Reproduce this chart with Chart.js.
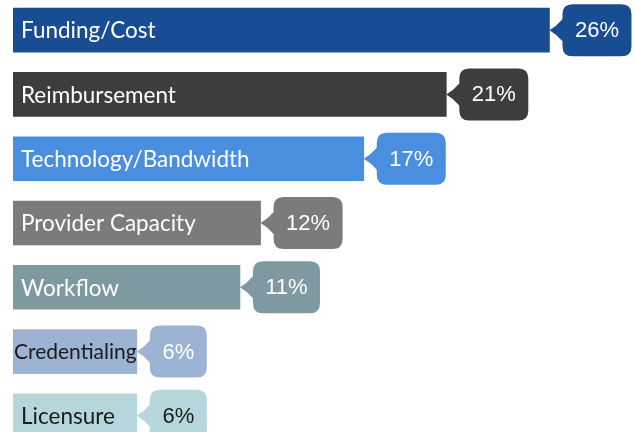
<!DOCTYPE html>
<html>
<head>
<meta charset="utf-8">
<script src="https://cdn.jsdelivr.net/npm/chart.js@4"></script>
<style>
    html, body { margin: 0; padding: 0; background: #fff; overflow: hidden; }
    #wrap { position: absolute; left: 0; top: -2px; width: 636px; height: 450px; }
</style>
</head>
<body>
<div id="wrap"><canvas id="chart"></canvas></div>
<script>
var categories = ["Funding/Cost", "Reimbursement", "Technology/Bandwidth", "Provider Capacity", "Workflow", "Credentialing", "Licensure"];
var shares = [26, 21, 17, 12, 11, 6, 6];

var barColors = ['#184d94', '#3d3d3d', '#4a8ee0', '#7b7b7b', '#7e9aa0', '#9db3d3', '#b5d6db'];
var labelColors = ['#fff', '#fff', '#fff', '#fff', '#fff', '#1a1a1a', '#1a1a1a'];
var bubbleTextColors = ['#fff', '#fff', '#fff', '#fff', '#fff', '#fff', '#1a1a1a'];

// label + callout bubble drawn on top of each bar
var calloutPlugin = {
    id: 'callouts',
    afterDatasetsDraw: function(chart) {
        var ctx = chart.ctx;
        var meta = chart.getDatasetMeta(0);
        meta.data.forEach(function(bar, i) {
            var x = bar.x, cy = bar.y;
            var half = bar.height / 2;
            var left = bar.base;

            // label inside bar
            ctx.save();
            var small = categories[i] === 'Credentialing';
            ctx.font = (small ? '21px' : '22.5px') + ' Lato';
            ctx.fillStyle = labelColors[i];
            ctx.textBaseline = 'middle';
            ctx.textAlign = 'left';
            ctx.fillText(categories[i], left + (small ? 1 : 8), cy + 1);

            // bubble, sized to its text
            var txt = shares[i] + '%';
            ctx.font = '22px "Liberation Sans", Arimo, Arial, sans-serif';
            var tw = ctx.measureText(txt).width;
            var bx = x + 13, bw = Math.round(tw + 25);
            var top = cy - half - 4, bottom = cy + half + 4;
            var r = 10;
            ctx.fillStyle = barColors[i];
            ctx.beginPath();
            ctx.moveTo(bx + r, top);
            ctx.lineTo(bx + bw - r, top);
            ctx.quadraticCurveTo(bx + bw, top, bx + bw, top + r);
            ctx.lineTo(bx + bw, bottom - r);
            ctx.quadraticCurveTo(bx + bw, bottom, bx + bw - r, bottom);
            ctx.lineTo(bx + r, bottom);
            ctx.quadraticCurveTo(bx, bottom, bx, bottom - r);
            ctx.lineTo(bx, cy + 11);
            ctx.quadraticCurveTo(bx - 6, cy + 4, x, cy);
            ctx.quadraticCurveTo(bx - 6, cy - 4, bx, cy - 11);
            ctx.lineTo(bx, top + r);
            ctx.quadraticCurveTo(bx, top, bx + r, top);
            ctx.closePath();
            ctx.fill();

            ctx.fillStyle = bubbleTextColors[i];
            ctx.textAlign = 'center';
            ctx.fillText(txt, bx + bw / 2, cy + 1);
            ctx.restore();
        });
    }
};

var chart = new Chart(document.getElementById('chart'), {
    type: 'bar',
    data: {
        labels: categories,
        datasets: [{
            data: shares,
            backgroundColor: barColors,
            barThickness: 44,
            borderWidth: 0
        }]
    },
    options: {
        indexAxis: 'y',
        responsive: true,
        maintainAspectRatio: false,
        animation: false,
        layout: { padding: { left: 13, right: 4, top: 0, bottom: 0 } },
        plugins: {
            legend: { display: false },
            tooltip: { enabled: false }
        },
        scales: {
            x: { display: false, min: 0, max: 30 },
            y: { display: false }
        }
    },
    plugins: [calloutPlugin]
});
</script>
</body>
</html>
